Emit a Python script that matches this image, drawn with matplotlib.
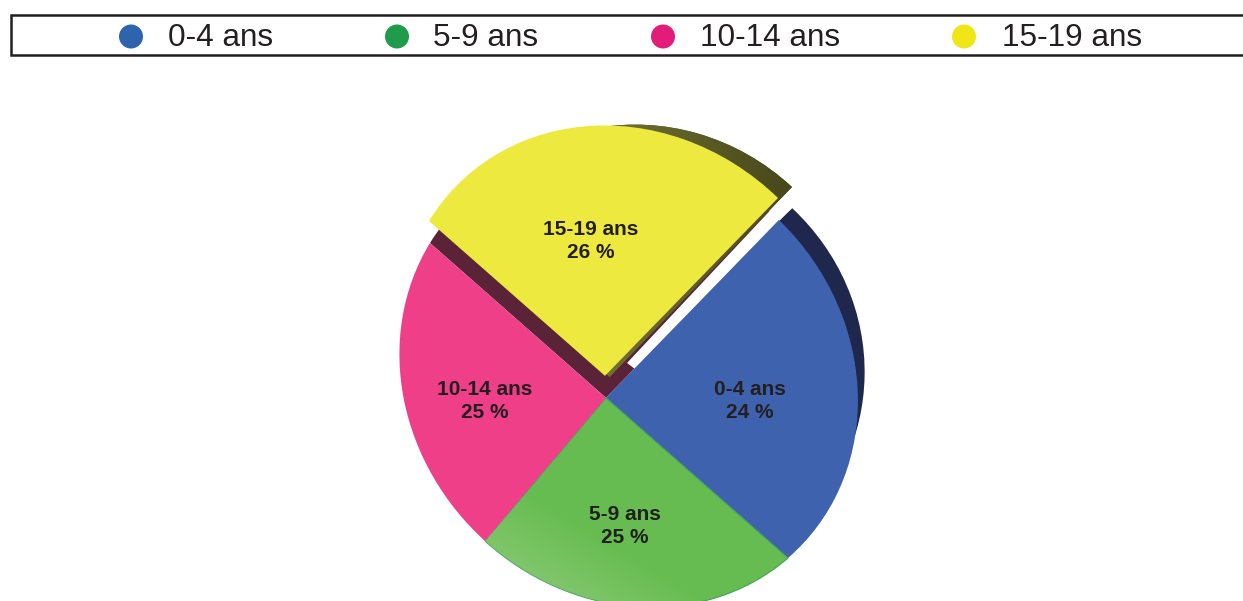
import numpy as np
import matplotlib
matplotlib.use("Agg")
import matplotlib.pyplot as plt
from matplotlib import transforms as mtransforms
from matplotlib.patches import Circle, Polygon

# ---- data ----
categories = ["0-4 ans", "5-9 ans", "10-14 ans", "15-19 ans"]
shares = [24, 25, 25, 26]
legend_colors = ["#2e63ae", "#1f9b4b", "#e31c79", "#f0e617"]
face_colors = ["#3e62ae", "#66bc50", "#ef3f88", "#eee93f"]
side_colors = ["#20274d", "#1f9b4b", "#5a2338", "#57561f"]

# ---- layout (pixels) ----
W, H = 1243, 601
START = 45
FACE_CORNERS = [(779, 220), (788, 558), (485, 541), (430, 243)]
BLUE_SIDE_CORNERS = [(792, 208), (795, 530), (485, 541), (430, 243)]
YELLOW_SHIFT = (-1, -22)
YELLOW_SIDE_CORNERS = [(792, 187), (790, 540), (485, 525), (447, 230)]
GAP = [(627, 363), (779, 201), (795, 187), (797, 204), (779, 220), (635, 369)]
LABEL_POS = [(750, 401), (625, 526), (485, 401), (591, 241)]
LEG_DOT_X = [131, 397, 663, 964]
LEG_TXT_X = [168, 433, 700, 1002]
TEXT = "#231f20"
FONT = ["Liberation Sans", "DejaVu Sans"]


def boundary_points():
    a = np.radians(START - 3.6 * np.cumsum([0] + shares[:-1]))
    return np.column_stack([np.cos(a), np.sin(a)])


def fit(src, dst):
    A, b = [], []
    for (x, y), (u, v) in zip(src, dst):
        A.append([x, y, 1, 0, 0, 0, -u * x, -u * y]); b.append(u)
        A.append([0, 0, 0, x, y, 1, -v * x, -v * y]); b.append(v)
    return np.append(np.linalg.solve(np.array(A, float), np.array(b, float)), 1).reshape(3, 3)


class Perspective(mtransforms.Transform):
    input_dims = output_dims = 2
    is_separable = False
    has_inverse = False

    def __init__(self, m):
        super().__init__()
        self.m = m

    def transform_non_affine(self, v):
        v = np.asarray(v, float)
        p = np.column_stack([v, np.ones(len(v))]) @ self.m.T
        return p[:, :2] / p[:, 2:3]


def pixel_axes():
    ax.set_aspect("auto")
    ax.set_xlim(0, W)
    ax.set_ylim(H, 0)


fig = plt.figure(figsize=(W / 100, H / 100), dpi=100, facecolor="white")
ax = fig.add_axes([0, 0, 1, 1])

pts = boundary_points()
face = Perspective(fit(pts, FACE_CORNERS))
blue_side = Perspective(fit(pts, BLUE_SIDE_CORNERS))
yellow_side = Perspective(fit(pts, YELLOW_SIDE_CORNERS))
shift = mtransforms.Affine2D().translate(*YELLOW_SHIFT)

# side bands and the socket left under the lifted slice
under, _ = ax.pie(shares, startangle=START, counterclock=False, colors=side_colors)
tops, _ = ax.pie(shares, startangle=START, counterclock=False, colors=face_colors)
pixel_axes()
ax.axis("off")

under[0].set_transform(blue_side + ax.transData)
under[0].set_zorder(1)
under[1].set_visible(False)
under[2].set_visible(False)
under[3].set_transform(yellow_side + ax.transData)
under[3].set_zorder(3)

for i, w in enumerate(tops):
    w.set_linewidth(0)
    if i == 3:
        w.set_transform(face + shift + ax.transData)
        w.set_zorder(5)
    else:
        w.set_transform(face + ax.transData)
        w.set_zorder(4)
tops[1].set_edgecolor("#3fa35a")
tops[1].set_linewidth(0.8)

# maroon socket: same slice at its rest position
sock, _ = ax.pie([shares[3], 100 - shares[3]], startangle=START + 3.6 * shares[3],
                 counterclock=False, colors=[side_colors[2], "none"])
pixel_axes()
sock[0].set_transform(face + ax.transData)
sock[0].set_zorder(2)
sock[1].set_visible(False)

grad_y, grad_x = np.mgrid[0:H, 0:W]

# the yellow slice's side band fades from olive to a darker olive
s = np.clip((grad_x - 600) / 190, 0, 1)[..., None]
olive = (1 - s) * np.array([0.45, 0.45, 0.20]) + s * np.array([0.28, 0.28, 0.11])
im2 = ax.imshow(olive, extent=(0, W, H, 0), zorder=3.2, aspect="auto", interpolation="bilinear")
im2.set_clip_path(under[3])

# white gap between the lifted slice and the blue slice
ax.add_patch(Polygon(GAP, closed=True, facecolor="white", edgecolor="none", zorder=3.5))

# light sheen on the green slice
t = np.clip(((560 - grad_x) * 0.6 + (grad_y - 510) * 1.0) / 130, 0, 1)[..., None]
rgba = np.concatenate([np.broadcast_to(np.array([0.68, 0.85, 0.60]), (H, W, 3)), 0.6 * t], axis=2)
im = ax.imshow(rgba, extent=(0, W, H, 0), zorder=4.5, aspect="auto", interpolation="bilinear")
im.set_clip_path(tops[1])
pixel_axes()

# slice labels
for name, v, (x, y) in zip(categories, shares, LABEL_POS):
    ax.text(x, y, f"{name}\n{v} %", ha="center", va="center", fontsize=15, fontweight="bold",
            color=TEXT, family=FONT, linespacing=1.32, zorder=8)

# legend strip, open on the right
ax.plot([W + 5, 11, 11, W + 5], [15, 15, 55, 55], color=TEXT, lw=1.8, zorder=8,
        solid_joinstyle="miter", clip_on=False)
for name, c, dx, tx in zip(categories, legend_colors, LEG_DOT_X, LEG_TXT_X):
    ax.add_patch(Circle((dx, 36.5), 12, facecolor=c, edgecolor="none", zorder=8))
    ax.text(tx, 38, name, ha="left", va="center", fontsize=22.7, color=TEXT, family=FONT, zorder=8)

fig.savefig("out.png", dpi=100)
